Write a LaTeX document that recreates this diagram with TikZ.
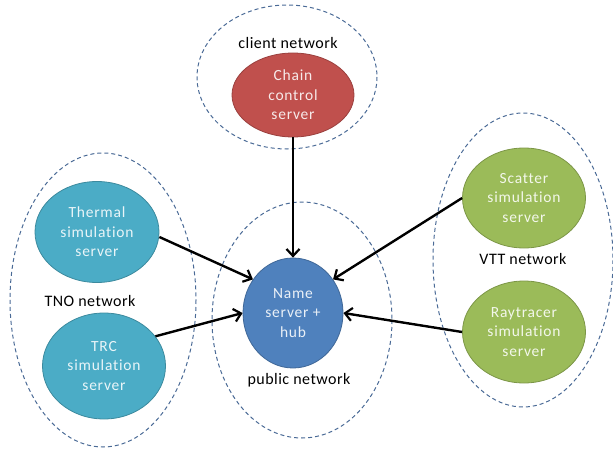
\documentclass[tikz,border=0pt]{standalone}
\usepackage{fontspec}
\setmainfont{Carlito}[Ligatures=NoCommon]
\usetikzlibrary{arrows.meta,shapes.geometric}
\definecolor{cred}{HTML}{C0504D}
\definecolor{cblue}{HTML}{4F81BD}
\definecolor{cteal}{HTML}{4BACC6}
\definecolor{cgreen}{HTML}{9BBB59}
\definecolor{cdash}{HTML}{4A6A96}
\newfontfamily\lblfont[LetterSpace=5,Ligatures=NoCommon]{Carlito}
\newfontfamily\netfont[LetterSpace=3,Ligatures=NoCommon]{Carlito}
\tikzset{
  x=1pt,y=-1pt,
  netarea/.style={draw=cdash,line width=1pt,dash pattern=on 4pt off 3pt},
  server/.style={ellipse,draw=#1!80!black,fill=#1,line width=0.8pt,text=white!88!#1,align=center,
     font=\lblfont\fontsize{15.5}{19.5}\selectfont,inner sep=0pt},
  netlabel/.style={font=\netfont\fontsize{16}{18}\selectfont,text=black},
  link/.style={line width=2.4pt,-{Straight Barb[length=7pt,width=13pt,line width=2.2pt]}}
}
\begin{document}
\begin{tikzpicture}
\useasboundingbox (0,0) rectangle (613,452);
% network areas
\draw[netarea] (287,77) ellipse [x radius=90, y radius=72];
\draw[netarea] (103,300) ellipse [x radius=93, y radius=147];
\draw[netarea] (302,320) ellipse [x radius=90, y radius=118];
\draw[netarea] (523,260) ellipse [x radius=90, y radius=147];
% labels
\node[netlabel] (lclient) at (288,43) {client network};
\node[netlabel] (ltno) at (90,301) {TNO network};
\node[netlabel] (lpub) at (299,380) {public network};
\node[netlabel] (lvtt) at (523,259) {VTT network};
% servers
\node[server=cred, minimum width=122, minimum height=84] (chain) at (293,95) {Chain\\control\\server};
\node[server=cteal, minimum width=124, minimum height=101] (thermal) at (97,232) {Thermal\\simulation\\server};
\node[server=cteal, minimum width=123, minimum height=106] (trc) at (104,366) {TRC\\simulation\\server};
\node[server=cblue, minimum width=100, minimum height=110] (hub) at (293,313) {Name\\server +\\hub};
\node[server=cgreen, minimum width=123, minimum height=100] (scatter) at (524,198) {Scatter\\simulation\\server};
\node[server=cgreen, minimum width=123, minimum height=102] (ray) at (524,332) {Raytracer\\simulation\\server};
% links
\draw[link] (chain.south) -- (hub.north);
\draw[link] (thermal.east) ++(0,5) -- (hub.140);
\draw[link] (trc.30) -- (hub.west);
\draw[link] (scatter.west) -- (hub.40);
\draw[link] (ray.west) -- (hub.east);
\end{tikzpicture}
\end{document}
